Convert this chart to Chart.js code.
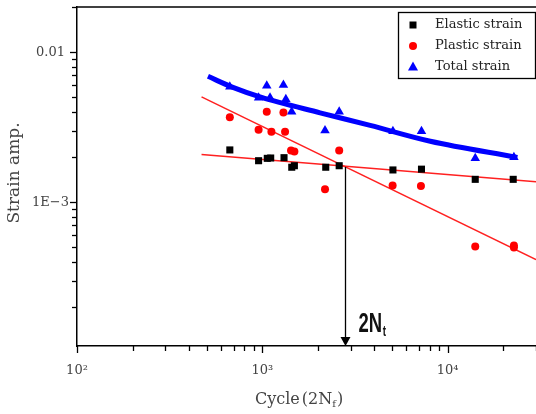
<!DOCTYPE html>
<html>
<head>
<meta charset="utf-8">
<title>Strain amplitude vs cycles</title>
<script src="https://cdn.jsdelivr.net/npm/chart.js@4.4.0/dist/chart.umd.min.js"></script>
<style>
  html, body { margin: 0; padding: 0; background: #fff; overflow: hidden; }
  #wrap { width: 536px; height: 414px; }
</style>
</head>
<body>
<div id="wrap"><canvas id="strainChart" width="536" height="414"></canvas></div>
<script>
// ---- data ----
const elasticCycles = [668, 955, 1064, 1110, 1310, 1442, 1490, 2200, 2600, 5070, 7230, 14100, 22600];
const elasticStrain = [2.23e-3, 1.89e-3, 1.96e-3, 1.97e-3, 1.98e-3, 1.71e-3, 1.75e-3, 1.71e-3, 1.75e-3, 1.64e-3, 1.66e-3, 1.42e-3, 1.42e-3];

const plasticCycles = [668, 1057, 1300, 955, 1120, 1327, 1429, 1490, 2600, 2180, 5050, 7180, 14100, 22800, 22800];
const plasticStrain = [3.68e-3, 4.0e-3, 3.96e-3, 3.04e-3, 2.95e-3, 2.95e-3, 2.21e-3, 2.18e-3, 2.21e-3, 1.22e-3, 1.29e-3, 1.28e-3, 5.07e-4, 5.15e-4, 4.99e-4];

const totalCycles = [668, 1057, 1300, 955, 1101, 1340, 1440, 2180, 2600, 5070, 7230, 14100, 22800];
const totalStrain = [5.89e-3, 5.98e-3, 6.04e-3, 4.97e-3, 4.97e-3, 4.86e-3, 4.0e-3, 3.01e-3, 4.0e-3, 2.97e-3, 2.97e-3, 1.96e-3, 1.99e-3];

// fitted lines
const elasticFitCycles = [470, 30000];
const elasticFitStrain = [2.08e-3, 1.37e-3];
const plasticFitCycles = [470, 30000];
const plasticFitStrain = [5.04e-3, 4.14e-4];
const totalFitCycles = [509, 694, 972, 2051, 3821, 8064, 23810];
const totalFitStrain = [6.90e-3, 5.82e-3, 5.03e-3, 3.94e-3, 3.25e-3, 2.55e-3, 1.99e-3];

// transition life 2Nt (where the two red lines cross)
const transitionCycles = 2780;
const transitionStrain = 1.72e-3;

// axes
const xMin = 100, xMax = 30000;
const yMin = 1.1e-4, yMax = 0.02;
const xTickLabels = { 2: '10\u00B2', 3: '10\u00B3', 4: '10\u2074' };
const yTickLabels = { '-2': '0.01', '-3': '1E\u22123' };

const legendItems = ['Elastic strain', 'Plastic strain', 'Total strain'];

const zip = (xs, ys) => xs.map((v, i) => ({ x: v, y: ys[i] }));

function isDecade(v) {
  const l = Math.log10(v);
  return Math.abs(l - Math.round(l)) < 1e-6;
}

function logTicks(min, max) {
  const out = [];
  for (let e = Math.floor(Math.log10(min)); e <= Math.ceil(Math.log10(max)); e++) {
    for (let m = 1; m < 10; m++) {
      const v = m * Math.pow(10, e);
      if (v >= min * 0.999 && v <= max * 1.001) out.push({ value: v, major: m === 1 });
    }
  }
  return out;
}

// no extra room for edge labels, the plot area is fixed
function noPadding(s) {
  s.paddingTop = 0;
  s.paddingBottom = 0;
  s.paddingLeft = 0;
  s.paddingRight = 0;
}

// tick marks, frame, titles, arrow, legend
const decorations = {
  id: 'decorations',
  afterDraw(chart) {
    const { ctx, chartArea: a, scales: { x, y } } = chart;
    ctx.save();

    // outward tick marks
    ctx.strokeStyle = '#000';
    ctx.lineWidth = 1.3;
    x.ticks.forEach(t => {
      const px = Math.round(x.getPixelForValue(t.value)) + 0.5;
      if (px > a.right + 1) return;
      const len = isDecade(t.value) ? 7 : 5;
      ctx.beginPath();
      ctx.moveTo(px, a.bottom);
      ctx.lineTo(px, a.bottom + len);
      ctx.stroke();
    });
    y.ticks.forEach(t => {
      const py = Math.round(y.getPixelForValue(t.value)) + 0.5;
      if (py > a.bottom - 1) return;
      const len = isDecade(t.value) ? 7 : 5;
      ctx.beginPath();
      ctx.moveTo(a.left, py);
      ctx.lineTo(a.left - len, py);
      ctx.stroke();
    });

    // top frame line
    ctx.lineWidth = 1.5;
    ctx.beginPath();
    ctx.moveTo(a.left, a.top);
    ctx.lineTo(a.right, a.top);
    ctx.stroke();

    // y title
    ctx.fillStyle = '#444';
    ctx.font = '17px "DejaVu Serif"';
    ctx.textAlign = 'center';
    ctx.textBaseline = 'middle';
    ctx.save();
    ctx.translate(15, 173);
    ctx.rotate(-Math.PI / 2);
    ctx.fillText('Strain amp.', 0, 0);
    ctx.restore();

    // x title: Cycle(2N_f)
    ctx.textAlign = 'left';
    ctx.textBaseline = 'alphabetic';
    let tx = 255;
    const base = 404;
    ctx.font = '16px "DejaVu Serif"';
    ctx.fillText('Cycle', tx, base);
    tx += ctx.measureText('Cycle').width + 2;
    ctx.fillText('(2N', tx, base);
    tx += ctx.measureText('(2N').width;
    ctx.font = '10px "DejaVu Serif"';
    ctx.fillText('f', tx, base + 3);
    tx += ctx.measureText('f').width + 1;
    ctx.font = '16px "DejaVu Serif"';
    ctx.fillText(')', tx, base);

    // arrow down to 2Nt
    const ax = Math.round(x.getPixelForValue(transitionCycles)) + 0.5;
    const ay = y.getPixelForValue(transitionStrain);
    ctx.strokeStyle = '#000';
    ctx.fillStyle = '#000';
    ctx.lineWidth = 1.3;
    ctx.beginPath();
    ctx.moveTo(ax, ay);
    ctx.lineTo(ax, a.bottom - 8);
    ctx.stroke();
    ctx.beginPath();
    ctx.moveTo(ax - 5, a.bottom - 9);
    ctx.lineTo(ax + 5, a.bottom - 9);
    ctx.lineTo(ax, a.bottom);
    ctx.closePath();
    ctx.fill();

    // 2N_t label (narrow, heavy)
    ctx.fillStyle = '#111';
    ctx.save();
    ctx.translate(ax + 13, a.bottom - 14);
    ctx.scale(0.66, 1);
    ctx.font = 'bold 28px "Liberation Sans"';
    ctx.fillText('2N', 0, 0);
    const w2n = ctx.measureText('2N').width;
    ctx.font = 'bold 15px "Liberation Sans"';
    ctx.fillText('t', w2n + 1, 4);
    ctx.restore();

    // legend box
    const lx = 398, ly = 12, lw = 138, lh = 67;
    ctx.fillStyle = '#fff';
    ctx.fillRect(lx, ly, lw, lh);
    ctx.strokeStyle = '#000';
    ctx.lineWidth = 1.3;
    ctx.strokeRect(lx + 0.5, ly + 0.5, lw - 1, lh - 1);
    const rows = [25, 46, 67];
    const ds = chart.data.datasets;
    ctx.font = '13px "DejaVu Serif"';
    ctx.textBaseline = 'middle';
    legendItems.forEach((label, i) => {
      const cx = 413, cy = rows[i];
      ctx.fillStyle = ds[i].backgroundColor;
      ctx.beginPath();
      if (i === 0) {
        ctx.rect(cx - 3.5, cy - 3.5, 7, 7);
      } else if (i === 1) {
        ctx.arc(cx, cy, 4, 0, Math.PI * 2);
      } else {
        ctx.moveTo(cx, cy - 5.5);
        ctx.lineTo(cx + 5, cy + 3.5);
        ctx.lineTo(cx - 5, cy + 3.5);
        ctx.closePath();
      }
      ctx.fill();
      ctx.fillStyle = '#222';
      ctx.fillText(label, 435, cy);
    });

    ctx.restore();
  }
};

const ctx = document.getElementById('strainChart').getContext('2d');
const strainChart = new Chart(ctx, {
  type: 'scatter',
  data: {
    datasets: [
      { label: legendItems[0], data: zip(elasticCycles, elasticStrain), pointStyle: 'rect', pointRadius: 5, backgroundColor: '#000', borderColor: '#000', borderWidth: 0 },
      { label: legendItems[1], data: zip(plasticCycles, plasticStrain), pointStyle: 'circle', pointRadius: 4, backgroundColor: '#ff0000', borderColor: '#ff0000', borderWidth: 0 },
      { label: legendItems[2], data: zip(totalCycles, totalStrain), pointStyle: 'triangle', pointRadius: 5.5, backgroundColor: '#0000ff', borderColor: '#0000ff', borderWidth: 0 },
      { type: 'line', data: zip(elasticFitCycles, elasticFitStrain), borderColor: '#ff2020', borderWidth: 1.5, pointRadius: 0, fill: false },
      { type: 'line', data: zip(plasticFitCycles, plasticFitStrain), borderColor: '#ff2020', borderWidth: 1.5, pointRadius: 0, fill: false },
      { type: 'line', data: zip(totalFitCycles, totalFitStrain), borderColor: '#0000ff', borderWidth: 5, pointRadius: 0, fill: false, cubicInterpolationMode: 'monotone' }
    ]
  },
  options: {
    responsive: false,
    animation: false,
    layout: { autoPadding: false, padding: { top: 7, left: 0, right: 0, bottom: 0 } },
    plugins: { legend: { display: false }, tooltip: { enabled: false } },
    scales: {
      x: {
        type: 'logarithmic',
        min: xMin,
        max: xMax,
        afterFit: s => { s.height = 68; noPadding(s); },
        afterBuildTicks: s => { s.ticks = logTicks(xMin, xMax); },
        grid: { display: false, drawTicks: false },
        border: { display: true, color: '#000', width: 1.5 },
        ticks: {
          autoSkip: false,
          maxRotation: 0,
          padding: 17,
          color: '#444',
          font: { family: 'DejaVu Serif', size: 13 },
          callback: v => isDecade(v) ? (xTickLabels[Math.round(Math.log10(v))] || '') : ''
        }
      },
      y: {
        type: 'logarithmic',
        min: yMin,
        max: yMax,
        afterFit: s => { s.width = 77; noPadding(s); },
        afterBuildTicks: s => { s.ticks = logTicks(yMin, yMax); },
        grid: { display: false, drawTicks: false },
        border: { display: true, color: '#000', width: 1.5 },
        ticks: {
          autoSkip: false,
          crossAlign: 'center',
          padding: 8,
          color: '#444',
          font: { family: 'DejaVu Serif', size: 13 },
          callback: v => isDecade(v) ? (yTickLabels[Math.round(Math.log10(v))] || '') : ''
        }
      }
    }
  },
  plugins: [decorations]
});
</script>
</body>
</html>
